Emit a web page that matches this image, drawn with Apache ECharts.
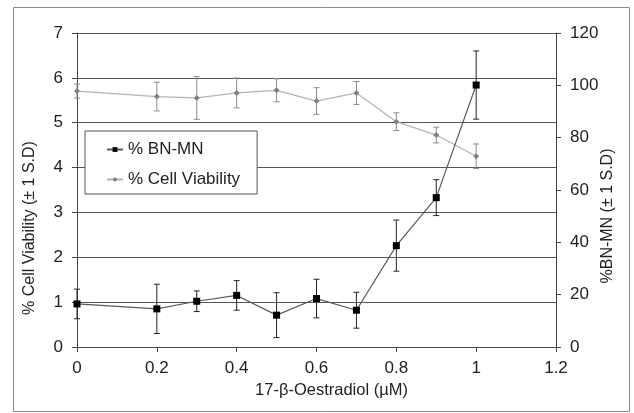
<!DOCTYPE html>
<html>
<head>
<meta charset="utf-8">
<script src="https://cdn.jsdelivr.net/npm/echarts@6/dist/echarts.min.js"></script>
<style>
html,body{margin:0;padding:0;background:#fff;}
#chart{width:634px;height:413px;}
</style>
</head>
<body>
<div id="chart"></div>
<script>
const conc = [0, 0.2, 0.3, 0.4, 0.5, 0.6, 0.7, 0.8, 0.9, 1.0];
const bnmn = [0.96, 0.85, 1.02, 1.15, 0.71, 1.08, 0.82, 2.26, 3.33, 5.84];
const bnmnSd = [0.33, 0.55, 0.23, 0.33, 0.50, 0.43, 0.40, 0.57, 0.40, 0.76];
const viab = [97.8, 95.7, 95.2, 97.1, 98.1, 94.0, 97.1, 86.1, 81.0, 72.9];
const viabSd = [2.7, 5.5, 8.2, 5.7, 4.4, 5.1, 4.4, 3.4, 3.0, 4.7];
const xTicks = [0, 0.2, 0.4, 0.6, 0.8, 1, 1.2];
const leftTicks = [0, 1, 2, 3, 4, 5, 6, 7];
const rightTicks = [0, 20, 40, 60, 80, 100, 120];

const FONT = "'Liberation Sans', Arial, sans-serif";
const chart = echarts.init(document.getElementById('chart'), null, {renderer: 'canvas'});

function errSeries(name, ys, sds, yIdx, color, z) {
  return {
    type: 'custom',
    name: name + ' err',
    yAxisIndex: yIdx,
    z: z,
    silent: true,
    dimensions: ['x', 'lo', 'hi'],
    encode: {x: 0, y: [1, 2]},
    data: conc.map((c, i) => [c, ys[i] - sds[i], ys[i] + sds[i]]),
    renderItem: function (params, api) {
      const x = api.value(0), lo = api.value(1), hi = api.value(2);
      const p1 = api.coord([x, hi]);
      const p2 = api.coord([x, lo]);
      const w = 3;
      const st = {stroke: color, lineWidth: 1};
      return {
        type: 'group',
        children: [
          {type: 'line', shape: {x1: p1[0], y1: p1[1], x2: p2[0], y2: p2[1]}, style: st},
          {type: 'line', shape: {x1: p1[0] - w, y1: p1[1], x2: p1[0] + w, y2: p1[1]}, style: st},
          {type: 'line', shape: {x1: p2[0] - w, y1: p2[1], x2: p2[0] + w, y2: p2[1]}, style: st}
        ]
      };
    }
  };
}

const option = {
  backgroundColor: '#fff',
  animation: false,
  textStyle: {fontFamily: FONT},
  graphic: [{
    type: 'rect', silent: true,
    shape: {x: 13.5, y: 7.5, width: 616, height: 404},
    style: {fill: null, stroke: '#8a8a8a', lineWidth: 1}
  }],
  grid: {left: 77, right: 78, top: 33, bottom: 66, containLabel: false},
  legend: {
    left: 85, top: 131,
    orient: 'vertical',
    data: ['% BN-MN', '% Cell Viability'],
    backgroundColor: '#fff',
    borderColor: '#555',
    borderWidth: 1,
    padding: [10, 17, 6, 21],
    itemWidth: 16,
    itemHeight: 6,
    itemGap: 13,
    textStyle: {fontFamily: FONT, fontSize: 17, color: '#222'},
    z: 10
  },
  xAxis: {
    type: 'value',
    min: 0, max: 1.2, interval: 0.2,
    name: '17-\u03B2-Oestradiol (\u00B5M)',
    nameLocation: 'middle',
    nameGap: 33,
    nameTextStyle: {fontFamily: FONT, fontSize: 16.5, color: '#222', padding: [0, 0, 0, 30]},
    axisLine: {show: true, onZero: false, lineStyle: {color: '#444', width: 1}},
    axisTick: {show: true, inside: false, length: 5, lineStyle: {color: '#444'}},
    axisLabel: {fontFamily: FONT, fontSize: 17, color: '#222', margin: 13,
      formatter: v => String(xTicks.find(t => Math.abs(t - v) < 1e-9) ?? v)},
    splitLine: {show: false}
  },
  yAxis: [{
    type: 'value',
    position: 'left',
    min: 0, max: 7, interval: 1,
    name: '% Cell Viability (\u00B1 1 S.D)',
    nameLocation: 'middle',
    nameRotate: 90,
    nameGap: 39,
    nameMoveOverlap: false,
    nameTextStyle: {fontFamily: FONT, fontSize: 16, color: '#222', padding: [0, 76, 0, 0]},
    axisLine: {show: true, lineStyle: {color: '#444', width: 1}},
    axisTick: {show: true, inside: false, length: 5, lineStyle: {color: '#444'}},
    axisLabel: {fontFamily: FONT, fontSize: 17, color: '#222', margin: 14,
      formatter: v => String(leftTicks.find(t => t === v) ?? v)},
    splitLine: {show: true, lineStyle: {color: '#555', width: 1}}
  }, {
    type: 'value',
    position: 'right',
    min: 0, max: 120, interval: 20,
    name: '%BN-MN (\u00B1 1 S.D)',
    nameLocation: 'middle',
    nameRotate: 90,
    nameGap: 44,
    nameMoveOverlap: false,
    nameTextStyle: {fontFamily: FONT, fontSize: 16, color: '#222', padding: [0, 52, 0, 0]},
    axisLine: {show: true, lineStyle: {color: '#444', width: 1}},
    axisTick: {show: true, inside: false, length: 5, lineStyle: {color: '#444'}},
    axisLabel: {fontFamily: FONT, fontSize: 17, color: '#222', margin: 14,
      formatter: v => String(rightTicks.find(t => t === v) ?? v)},
    splitLine: {show: false}
  }],
  series: [
    errSeries('% Cell Viability', viab, viabSd, 1, '#8c8c8c', 3),
    {
      type: 'line',
      name: '% Cell Viability',
      yAxisIndex: 1,
      z: 4,
      data: conc.map((c, i) => [c, viab[i]]),
      symbol: 'diamond',
      symbolSize: 6,
      lineStyle: {color: '#b4b4b4', width: 1.3},
      itemStyle: {color: '#808080'}
    },
    errSeries('% BN-MN', bnmn, bnmnSd, 0, '#222', 5),
    {
      type: 'line',
      name: '% BN-MN',
      yAxisIndex: 0,
      z: 6,
      data: conc.map((c, i) => [c, bnmn[i]]),
      symbol: 'rect',
      symbolSize: 7,
      lineStyle: {color: '#5a5a5a', width: 1.2},
      itemStyle: {color: '#000'}
    }
  ]
};
chart.setOption(option);
</script>
</body>
</html>
